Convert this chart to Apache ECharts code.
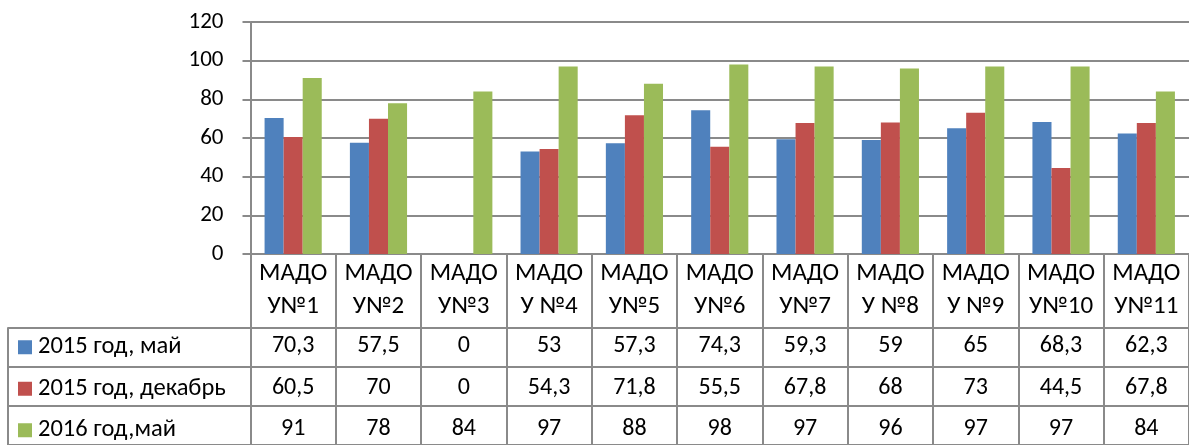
<!DOCTYPE html>
<html><head><meta charset="utf-8">
<script src="https://cdn.jsdelivr.net/npm/echarts@6/dist/echarts.min.js"></script>
<style>html,body{margin:0;padding:0;background:#fff}#c{width:1189px;height:445px}</style>
</head><body><div id="c"></div>
<script>
const categories = ['МАДО\nУ№1','МАДО\nУ№2','МАДО\nУ№3','МАДО\nУ №4','МАДО\nУ№5','МАДО\nУ№6','МАДО\nУ№7','МАДО\nУ №8','МАДО\nУ №9','МАДО\nУ№10','МАДО\nУ№11'];
const seriesNames = ['2015 год, май','2015 год, декабрь','2016 год,май'];
const may2015 = [70.3,57.5,0,53,57.3,74.3,59.3,59,65,68.3,62.3];
const dec2015 = [60.5,70,0,54.3,71.8,55.5,67.8,68,73,44.5,67.8];
const may2016 = [91,78,84,97,88,98,97,96,97,97,84];
const yMin = 0, yMax = 120, yStep = 20;
const colors = ['#4F81BD','#C0504D','#9BBB59'];

const FONT = 'Carlito, Lato, sans-serif';
const GRAY = '#8a8a8a';
const axisY = 254, tableTop = 328, rowH = 41.5;
const seriesData = [may2015, dec2015, may2016];
const fmt = v => String(v).replace('.', ',');

const rowAxes = seriesData.map((arr, k) => ({
  type: 'category', gridIndex: 0, position: 'bottom', data: categories,
  axisLine: {show: false}, axisTick: {show: false}, splitLine: {show: false},
  axisLabel: {
    interval: 0, fontFamily: FONT, fontSize: 24, color: '#000',
    verticalAlign: 'middle',
    margin: tableTop + rowH * (k + 0.5) - 2.5 - axisY,
    formatter: (v, i) => fmt(arr[i])
  }
}));

const legends = seriesNames.map((n, k) => ({
  data: [n], left: 13, top: tableTop + rowH * (k + 0.5) - 2 - 12 - 5,
  icon: 'rect', itemWidth: 14, itemHeight: 14, itemGap: 4, selectedMode: false,
  textStyle: {fontFamily: FONT, fontSize: 24.5, lineHeight: 24, color: '#000', padding: [0,0,0,1]}
}));

const chart = echarts.init(document.getElementById('c'));
chart.setOption({
  animation: false,
  color: colors,
  legend: legends,
  grid: [
    {left: 250.5, right: 0, top: 22, height: axisY - 22},
    {left: 8, right: 0, top: tableTop, height: rowH * 3}
  ],
  xAxis: [
    {
      type: 'category', gridIndex: 0, data: categories,
      axisLine: {show: true, lineStyle: {color: GRAY, width: 2}},
      axisTick: {show: true, interval: 0, length: 200, lineStyle: {color: GRAY, width: 2}},
      axisLabel: {interval: 0, fontFamily: FONT, fontSize: 25, lineHeight: 33, margin: 3, color: '#000'}
    },
    ...rowAxes,
    {type: 'value', gridIndex: 1, min: 0, max: 1, show: false}
  ],
  yAxis: [
    {
      type: 'value', gridIndex: 0, min: yMin, max: yMax, interval: yStep,
      axisLine: {show: true, lineStyle: {color: GRAY, width: 2}},
      axisTick: {show: true, length: 8, lineStyle: {color: GRAY, width: 2}},
      splitLine: {show: true, lineStyle: {color: GRAY, width: 2}},
      axisLabel: {fontFamily: FONT, fontSize: 23, margin: 27, color: '#000'}
    },
    {
      type: 'category', gridIndex: 1, data: seriesNames, inverse: true,
      axisLine: {show: true, lineStyle: {color: GRAY, width: 2}},
      axisTick: {show: false}, axisLabel: {show: false},
      splitLine: {show: true, lineStyle: {color: GRAY, width: 2}}
    }
  ],
  series: seriesData.map((arr, k) => ({
    name: seriesNames[k], type: 'bar', xAxisIndex: 0, yAxisIndex: 0,
    data: arr, barGap: '0%', barCategoryGap: '33%'
  }))
});
</script></body></html>
